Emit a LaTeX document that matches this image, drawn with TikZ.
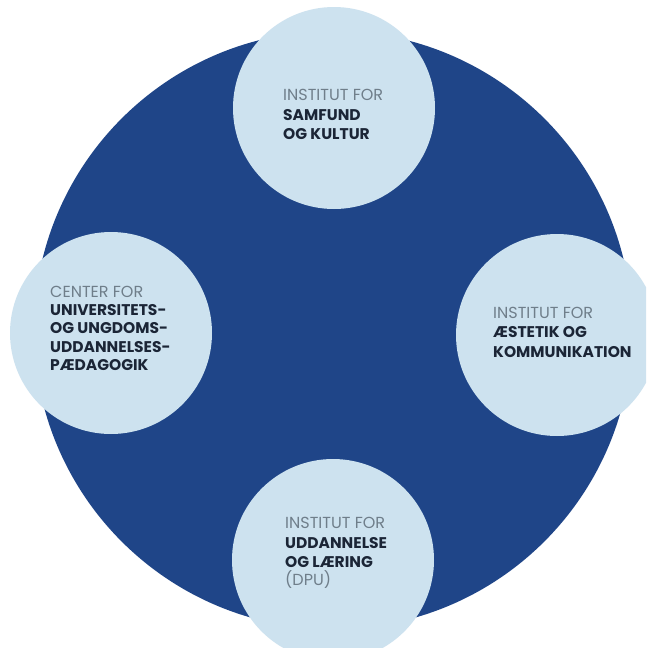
\documentclass[tikz,border=0pt]{standalone}
\usepackage{fontspec}
\setmainfont{Poppins}
\definecolor{darkblue}{HTML}{1F4588}
\definecolor{lightblue}{HTML}{CDE2EF}
\definecolor{boldtext}{HTML}{1B2536}
\definecolor{greytext}{HTML}{6F7E8A}
\tikzset{
  bigdisc/.style={circle, fill=darkblue, draw=none, minimum size=598pt, inner sep=0pt},
  smalldisc/.style={circle, fill=lightblue, draw=none, minimum size=202pt, inner sep=0pt},
  thinline/.style={anchor=base west, inner sep=0pt, text=greytext, font=\fontsize{16}{19}\selectfont},
  boldline/.style={anchor=base west, inner sep=0pt, text=boldtext, font=\fontsize{15.5}{19}\selectfont\bfseries},
}
\begin{document}
\begin{tikzpicture}[x=1pt,y=-1pt]
\useasboundingbox (0,0) rectangle (646,648);
\clip (0,0) rectangle (646,648);
\fill[white] (0,0) rectangle (646,648);
\node[bigdisc] (big) at (333,330) {};
\node[smalldisc] (top) at (334,108) {};
\node[smalldisc] (left) at (111,333) {};
\node[smalldisc] (right) at (557,335) {};
\node[smalldisc] (bottom) at (333,560) {};
% top
\node[thinline] (t1) at (283,100) {INSTITUT FOR};
\node[boldline] (t2) at (283,120) {SAMFUND};
\node[boldline] (t3) at (283,139) {OG KULTUR};
% left
\node[thinline] (l1) at (50,297) {CENTER FOR};
\node[boldline] (l2) at (50,315) {UNIVERSITETS-};
\node[boldline] (l3) at (50,333) {OG UNGDOMS-};
\node[boldline] (l4) at (50,352) {UDDANNELSES-};
\node[boldline] (l5) at (50,370) {PÆDAGOGIK};
% right
\node[thinline] (r1) at (493,318) {INSTITUT FOR};
\node[boldline] (r2) at (493,337) {ÆSTETIK OG};
\node[boldline] (r3) at (493,357) {KOMMUNIKATION};
% bottom
\node[thinline] (b1) at (285,528) {INSTITUT FOR};
\node[boldline] (b2) at (285,548) {UDDANNELSE};
\node[boldline] (b3) at (285,567) {OG LÆRING};
\node[thinline] (b4) at (285,585) {(DPU)};
\end{tikzpicture}
\end{document}
